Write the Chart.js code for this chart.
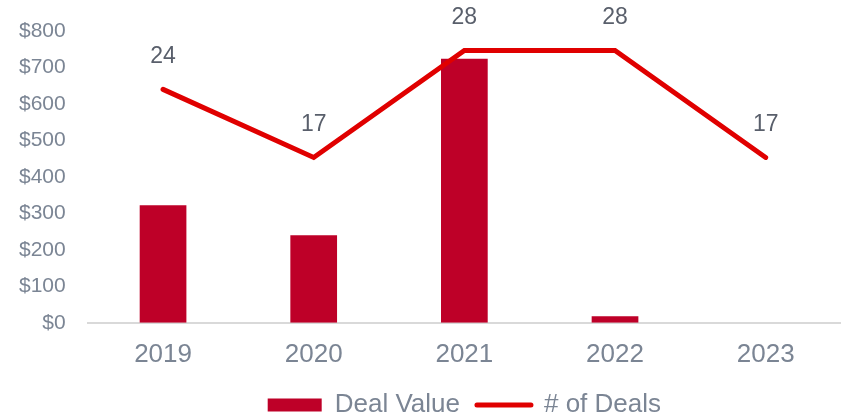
<!DOCTYPE html>
<html>
<head>
<meta charset="utf-8">
<script src="https://cdn.jsdelivr.net/npm/chart.js@4"></script>
<style>
  html, body { margin: 0; padding: 0; background: #fff; }
  #wrap { width: 841px; height: 416px; }
</style>
</head>
<body>
<div id="wrap"><canvas id="dealsChart"></canvas></div>
<script>
const years = ["2019", "2020", "2021", "2022", "2023"];
const dealValue = [322, 240, 724, 18, 0];
const dealCount = [24, 17, 28, 28, 17];
const valueTicks = [0, 100, 200, 300, 400, 500, 600, 700, 800];

// numbers above each point of the line
const pointLabels = {
    id: "pointLabels",
    afterDatasetsDraw(chart) {
        const ctx = chart.ctx;
        const meta = chart.getDatasetMeta(1);
        ctx.save();
        ctx.font = "23px 'Liberation Sans', Arial, sans-serif";
        ctx.fillStyle = "#595f6b";
        ctx.textAlign = "center";
        ctx.textBaseline = "middle";
        meta.data.forEach((pt, i) => {
            ctx.fillText(dealCount[i], pt.x, pt.y - 33);
        });
        ctx.restore();
    }
};

function drawDealsChart() {
    const ctx = document.getElementById("dealsChart").getContext("2d");

    new Chart(ctx, {
        data: {
            labels: years,
            datasets: [
                {
                    type: "bar",
                    label: "Deal Value",
                    data: dealValue,
                    backgroundColor: "#be0028",
                    yAxisID: "y",
                    order: 1,
                    categoryPercentage: 1,
                    barPercentage: 0.31
                },
                {
                    type: "line",
                    label: "# of Deals",
                    data: dealCount,
                    borderColor: "#e00000",
                    backgroundColor: "#e00000",
                    borderWidth: 5,
                    borderCapStyle: "round",
                    pointRadius: 0,
                    tension: 0,
                    yAxisID: "y1",
                    order: 0
                }
            ]
        },
        options: {
            responsive: true,
            maintainAspectRatio: false,
            animation: false,
            layout: { padding: { top: 31, left: 5, right: 0, bottom: -12 } },
            scales: {
                x: {
                    grid: { display: false },
                    border: { color: "#d9d9d9", width: 2 },
                    ticks: { color: "#7b8594", padding: 8, font: { family: "'Liberation Sans', Arial", size: 26 } },
                    afterFit: axis => { axis.height -= 3; }
                },
                y: {
                    min: 0,
                    max: 800,
                    afterBuildTicks: axis => { axis.ticks = valueTicks.map(v => ({ value: v })); },
                    grid: { display: false },
                    border: { display: false },
                    ticks: {
                        color: "#7b8594",
                        padding: 14,
                        font: { family: "'Liberation Sans', Arial", size: 21 },
                        callback: v => "$" + v
                    }
                },
                y1: {
                    position: "right",
                    min: 0,
                    max: 30,
                    display: false
                }
            },
            plugins: {
                legend: {
                    position: "bottom",
                    fullSize: false,
                    labels: {
                        usePointStyle: true,
                        pointStyleWidth: 54,
                        boxHeight: 13,
                        padding: 17,
                        color: "#7b8594",
                        font: { family: "'Liberation Sans', Arial", size: 26 },
                        sort: (a, b) => a.datasetIndex - b.datasetIndex,
                        generateLabels: chart => chart.data.datasets.map((ds, i) => ({
                            text: ds.label,
                            datasetIndex: i,
                            fillStyle: ds.backgroundColor,
                            strokeStyle: ds.type === "line" ? ds.borderColor : ds.backgroundColor,
                            lineWidth: ds.type === "line" ? 5 : 0,
                            lineCap: "round",
                            pointStyle: ds.type === "line" ? "line" : "rect",
                            fontColor: "#7b8594"
                        }))
                    }
                },
                tooltip: { enabled: true }
            }
        },
        plugins: [pointLabels]
    });
}

drawDealsChart();
</script>
</body>
</html>
